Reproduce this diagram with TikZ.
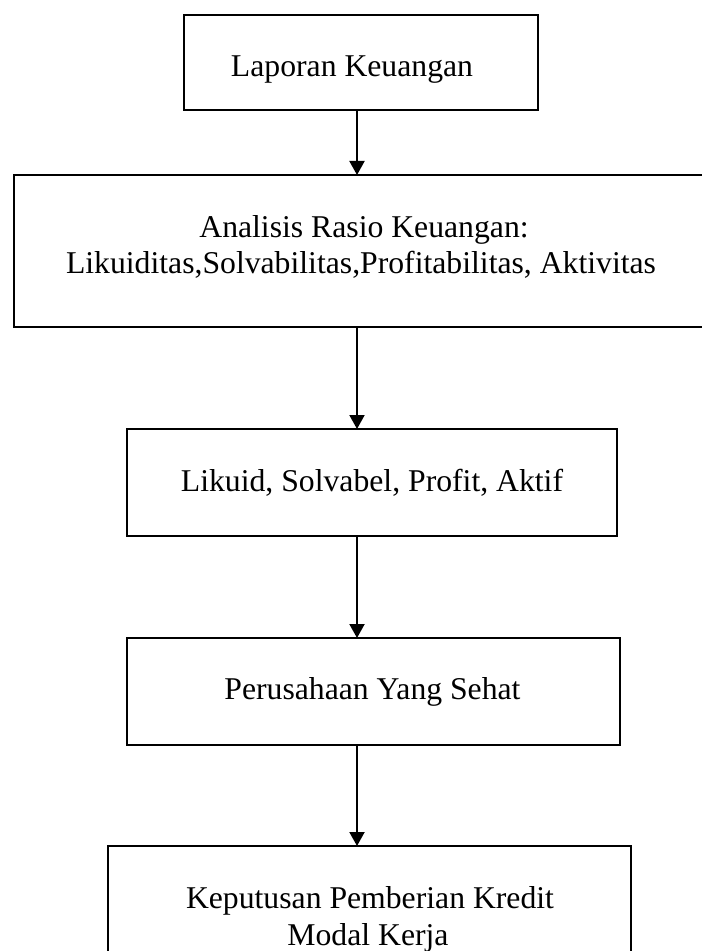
\documentclass[tikz,border=0pt]{standalone}
\usepackage{fontspec}
\setmainfont{Liberation Serif}
\usetikzlibrary{arrows.meta}

\tikzset{
  box/.style={draw, line width=1pt, inner sep=0pt, outer sep=0pt},
  label text/.style={anchor=base, inner sep=0pt, outer sep=0pt,
    font=\fontsize{15.85pt}{18.25pt}\selectfont},
  flow/.style={line width=1pt, -{Triangle[width=7.5pt,length=7pt]}}
}

\begin{document}
\begin{tikzpicture}[x={(0.5pt,0)}, y={(0,-0.5pt)}]
  \useasboundingbox (0,0) rectangle (701,951);

  % boxes of the flow
  \node[box, minimum width=177pt,   minimum height=47.5pt] (b1) at (361,62.5) {};
  \node[box, minimum width=353pt,   minimum height=76pt]   (b2) at (367,251) {};
  \node[box, minimum width=245pt,   minimum height=53.5pt] (b3) at (372,482.5) {};
  \node[box, minimum width=246.5pt, minimum height=53.5pt] (b4) at (373.5,691.5) {};
  \node[box, minimum width=261.5pt, minimum height=72pt]   (b5) at (369.5,918) {};

  % texts
  \node[label text] (t1)  at (352,77)  {Laporan Keuangan};
  \node[label text] (t2a) at (364,238) {Analisis Rasio Keuangan:};
  \node[label text] (t2b) at (361,274) {Likuiditas,Solvabilitas,Profitabilitas, Aktivitas};
  \node[label text] (t3)  at (372,491) {Likuid, Solvabel, Profit, Aktif};
  \node[label text] (t4)  at (372.5,699) {Perusahaan Yang Sehat};
  \node[label text] (t5a) at (370,908) {Keputusan Pemberian Kredit};
  \node[label text] (t5b) at (368,945) {Modal Kerja};

  % connectors, all on one vertical line
  \coordinate (ax) at (357,0);
  \draw[flow] (b1.south -| ax) -- (b2.north -| ax);
  \draw[flow] (b2.south -| ax) -- (b3.north -| ax);
  \draw[flow] (b3.south -| ax) -- (b4.north -| ax);
  \draw[flow] (b4.south -| ax) -- (b5.north -| ax);
\end{tikzpicture}
\end{document}
